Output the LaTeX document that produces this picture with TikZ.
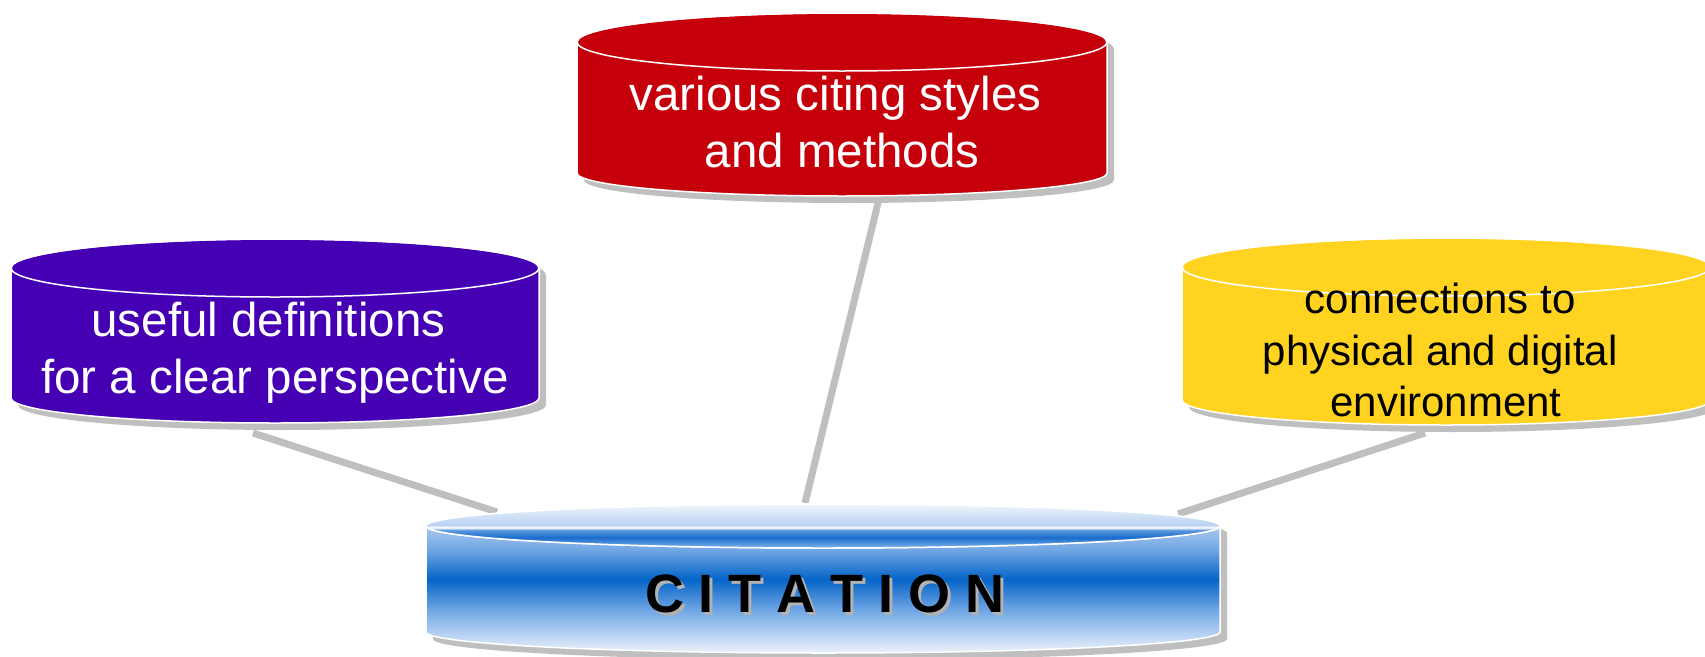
\documentclass[tikz,border=0pt]{standalone}
\usepackage{fontspec}
\setmainfont{Liberation Sans}
\definecolor{citred}{HTML}{C5000B}
\definecolor{citpurple}{HTML}{4600B4}
\definecolor{cityellow}{HTML}{FFD320}
\definecolor{bandA}{RGB}{235,242,250}
\definecolor{bandB}{RGB}{200,220,245}
\definecolor{bandC}{RGB}{110,165,228}
\definecolor{bandD}{RGB}{5,100,200}
\definecolor{bandE}{RGB}{165,198,238}
\definecolor{topA}{RGB}{130,180,232}
\definecolor{topB}{RGB}{25,108,205}
\definecolor{topC}{RGB}{90,150,220}
\definecolor{topD}{RGB}{185,210,240}
\definecolor{topE}{RGB}{240,246,252}
\pgfdeclareverticalshading{citbody}{100bp}{color(0bp)=(bandA); color(25bp)=(bandA);
  color(29.4bp)=(bandB); color(39.6bp)=(bandC); color(49.8bp)=(bandD);
  color(59.4bp)=(bandC); color(66.8bp)=(bandE); color(75bp)=(bandB); color(100bp)=(bandB)}
\pgfdeclareverticalshading{cittop}{100bp}{color(0bp)=(topA); color(25bp)=(topA);
  color(36.9bp)=(topB); color(45.2bp)=(topC); color(48.2bp)=(white);
  color(51.2bp)=(topD); color(75bp)=(topE); color(100bp)=(topE)}
\tikzset{
  drumshadow/.style={fill=black!25},
  rim/.style={draw=white,line width=1.5},
  link/.style={draw=black!25,line width=7},
  drumtext/.style={align=center,inner sep=0,text=white,font=\fontsize{47.5}{57}\selectfont},
  cittext/.style={anchor=base,inner sep=0,font=\fontsize{54}{60}\selectfont\bfseries}
}
% centre x, top y, bottom y, x radius, top y radius, bottom y radius, fill
\newcommand{\drum}[7]{%
  \fill[drumshadow,shift={(7,7)}] (#1-#4,#2) -- (#1-#4,#3)
    arc[start angle=180,end angle=0,x radius=#4,y radius=#6]
    -- (#1+#4,#2) arc[start angle=0,end angle=-180,x radius=#4,y radius=#5] -- cycle;
  \path[rim,#7] (#1-#4,#2) -- (#1-#4,#3)
    arc[start angle=180,end angle=0,x radius=#4,y radius=#6]
    -- (#1+#4,#2) arc[start angle=0,end angle=-180,x radius=#4,y radius=#5] -- cycle;
  \draw[rim] (#1,#2) ellipse[x radius=#4,y radius=#5];
}
\begin{document}
\begin{tikzpicture}[x=1pt,y=-1pt]
\useasboundingbox (0,0) rectangle (1705,656);
\fill[white] (0,0) rectangle (1705,656);
% Links
\coordinate (defs-foot) at (253,433);
\coordinate (styles-foot) at (879,199);
\coordinate (links-foot) at (1425,433);
\coordinate (cit-left) at (497,512);
\coordinate (cit-top) at (805,503);
\coordinate (cit-right) at (1178,514);
\draw[link] (defs-foot) -- (cit-left);
\draw[link] (styles-foot) -- (cit-top);
\draw[link] (links-foot) -- (cit-right);
% Drums
\drum{842}{42}{173}{265}{29}{23}{fill=citred}
\drum{275}{268}{398}{264}{29}{25}{fill=citpurple}
\drum{1446}{267}{400}{264}{29}{25}{fill=cityellow}
\drum{823}{526}{632}{397}{22}{21}{shading=citbody}
\path[rim,shading=cittop] (823,526) ellipse[x radius=397,y radius=22];
% Texts
\node[drumtext] (styles) at (842,121.7) {various citing styles\hphantom{\ }\\and methods};
\node[drumtext] (defs) at (275,352.7) {useful definitions\hphantom{\ }\\for a clear perspective};
\node[drumtext,text=black,font=\fontsize{42}{51.5}\selectfont] (links) at (1446,350)
  {connections to\hphantom{\ }\\physical and digital\hphantom{\ }\\environment};
\node[cittext,text=black!30] (cit-shadow) at (828,615) {C I T A T I O N};
\node[cittext] (cit) at (825,612) {C I T A T I O N};
\end{tikzpicture}
\end{document}
